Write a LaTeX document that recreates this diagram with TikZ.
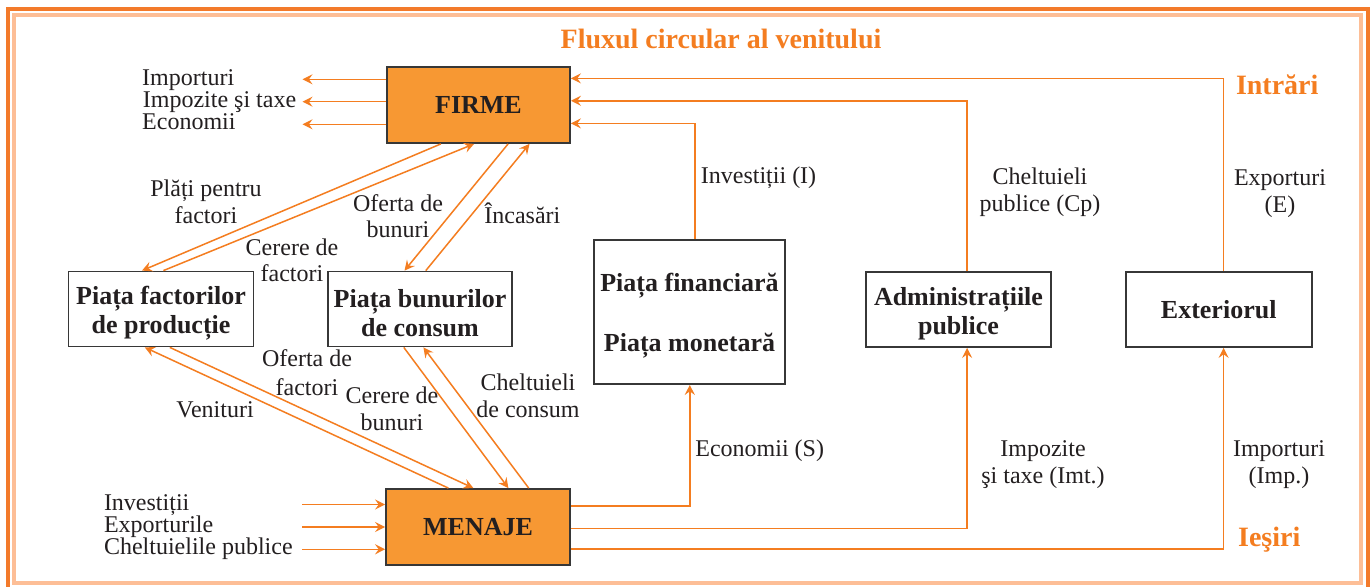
\documentclass[tikz,border=0pt]{standalone}
\usepackage{fontspec}
\setmainfont{Liberation Serif}
\usetikzlibrary{calc,arrows.meta}
\definecolor{lnor}{RGB}{244,125,32}
\definecolor{boxor}{RGB}{247,152,51}
\definecolor{frameor}{RGB}{243,122,42}
\definecolor{peach}{RGB}{253,190,150}
\definecolor{txt}{RGB}{35,31,32}
\definecolor{bord}{RGB}{55,55,55}
\newcommand{\topstrut}{\rule{0pt}{13pt}}
\begin{document}
\begin{tikzpicture}[x=0.5pt,y=-0.5pt,
  box/.style={draw=bord,line width=0.9pt,fill=white,text=txt,font=\fontsize{13}{14.5}\selectfont\bfseries,align=center,inner sep=0pt},
  obox/.style={box,fill=boxor},
  flow/.style={draw=lnor,line width=0.75pt,-{Stealth[length=5pt,width=5pt,inset=1.8pt]}},
  lbl/.style={text=txt,font=\fontsize{12}{14}\selectfont,inner sep=0pt},
  olbl/.style={text=lnor,font=\fontsize{14}{16}\selectfont\bfseries,inner sep=0pt}
]
\useasboundingbox (0,0) rectangle (1370,587);
\fill[white] (0,0) rectangle (1370,587);
% frame
\draw[frameor,line width=2pt] (8,600) -- (8,8.8) -- (1367.5,8.8) -- (1367.5,600);
\draw[peach,line width=2pt] (14,15.3) rectangle (1361.3,582.5);

% title and side labels
\node[olbl,anchor=base] (title) at (721,49) {Fluxul circular al venitului};
\node[olbl,anchor=base west] (intrari) at (1235.6,95) {Intrări};
\node[olbl,anchor=base west] (iesiri) at (1237.7,546.7) {Ieşiri};

% boxes
\node[obox,minimum width=91.5pt,minimum height=38pt] (firme) at (478.5,105) {FIRME};
\node[obox,minimum width=92pt,minimum height=38pt] (menaje) at (478,527) {MENAJE};
\node[box,minimum width=92.5pt,minimum height=37.5pt] (pfact) at (161,309) {\topstrut Piața factorilor\\de producție};
\node[box,minimum width=92.3pt,minimum height=37.5pt] (pbun) at (420,309) {\topstrut Piața bunurilor\\de consum};
\node[box,minimum width=95.5pt,minimum height=72pt] (pfin) at (689.5,312) {\topstrut Piața financiară\\[15.5pt]Piața monetară};
\node[box,minimum width=92.5pt,minimum height=37.5pt] (admin) at (958.5,309.5) {\topstrut Administrațiile\\publice};
\node[box,minimum width=93pt,minimum height=37.5pt] (ext) at (1218.7,309.5) {Exteriorul};

% left outputs of FIRME
\coordinate (fo1) at (302.5,79.3);
\coordinate (fo2) at (302.5,101.7);
\coordinate (fo3) at (302.5,124.3);
\draw[flow] (firme.west |- fo1) -- (fo1);
\draw[flow] (firme.west |- fo2) -- (fo2);
\draw[flow] (firme.west |- fo3) -- (fo3);
\node[lbl,anchor=base west] (limp) at (141.8,86) {Importuri};
\node[lbl,anchor=base west] (limz) at (142.5,107.7) {Impozite şi taxe};
\node[lbl,anchor=base west] (leco) at (141.8,130) {Economii};

% left inputs of MENAJE
\coordinate (mi1) at (302,504.5);
\coordinate (mi2) at (302,527);
\coordinate (mi3) at (302,549.3);
\draw[flow] (mi1) -- (menaje.west |- mi1);
\draw[flow] (mi2) -- (menaje.west |- mi2);
\draw[flow] (mi3) -- (menaje.west |- mi3);
\node[lbl,anchor=base west] (linv) at (103.6,510) {Investiții};
\node[lbl,anchor=base west] (lexp) at (103.6,532) {Exporturile};
\node[lbl,anchor=base west] (lchp) at (103.6,554) {Cheltuielile publice};

% right inputs of FIRME
\draw[flow] ($(ext.north west)+(98.8,0)$) |- ($(firme.north east)+(0,12.3)$);
\draw[flow] ($(admin.north west)+(102,0)$) |- ($(firme.north east)+(0,34.7)$);
\draw[flow] ($(pfin.north west)+(102,0)$) |- ($(firme.north east)+(0,57.3)$);

% right outputs of MENAJE
\draw[flow] ($(menaje.north east)+(0,17.7)$) -| ($(pfin.south west)+(96.7,0)$);
\draw[flow] ($(menaje.north east)+(0,40.3)$) -| ($(admin.south west)+(102,0)$);
\draw[flow] ($(menaje.north east)+(0,61)$) -| ($(ext.south west)+(98.8,0)$);

% diagonal flows
\draw[flow] ($(firme.south west)+(54.8,0)$) -- ($(pfact.north west)+(74.4,0)$);
\draw[flow] ($(pfact.north west)+(95.8,0)$) -- ($(firme.south west)+(88,0)$);
\draw[flow] ($(firme.south west)+(122,0)$) -- ($(pbun.north west)+(77.7,0)$);
\draw[flow] ($(pbun.north west)+(99,0)$) -- ($(firme.south west)+(143.4,0)$);
\draw[flow] ($(menaje.north west)+(63.3,0)$) -- ($(pfact.south west)+(77.2,0)$);
\draw[flow] ($(pfact.south west)+(102.2,0)$) -- ($(menaje.north west)+(88.3,0)$);
\draw[flow] ($(pbun.south west)+(77,0)$) -- ($(menaje.north west)+(123.3,0)$);
\draw[flow] ($(menaje.north west)+(143.6,0)$) -- ($(pbun.south west)+(96.6,0)$);

% diagonal labels
\node[lbl,anchor=base] (lpp1) at (206,197) {Plăți pentru};
\node[lbl,anchor=base] (lpp2) at (206,224) {factori};
\node[lbl,anchor=base] (lcf1) at (292,256) {Cerere de};
\node[lbl,anchor=base] (lcf2) at (292,282) {factori};
\node[lbl,anchor=base] (lob1) at (398,212) {Oferta de};
\node[lbl,anchor=base] (lob2) at (398,238) {bunuri};
\node[lbl,anchor=base west] (linc) at (484,224) {Încasări};
\node[lbl,anchor=base] (lof1) at (307,367) {Oferta de};
\node[lbl,anchor=base] (lof2) at (307,395) {factori};
\node[lbl,anchor=base] (lven) at (215,417) {Venituri};
\node[lbl,anchor=base] (lcb1) at (392,404) {Cerere de};
\node[lbl,anchor=base] (lcb2) at (392,430) {bunuri};
\node[lbl,anchor=base] (lcc1) at (528,391) {Cheltuieli};
\node[lbl,anchor=base] (lcc2) at (528,417) {de consum};

% right labels
\node[lbl,anchor=base west] (linvi) at (700.5,184) {Investiții (I)};
\node[lbl,anchor=base] (lcp1) at (1040,185) {Cheltuieli};
\node[lbl,anchor=base] (lcp2) at (1040,212) {publice (Cp)};
\node[lbl,anchor=base] (lex1) at (1280,186) {Exporturi};
\node[lbl,anchor=base] (lex2) at (1280,213) {(E)};
\node[lbl,anchor=base west] (lecs) at (695,456) {Economii (S)};
\node[lbl,anchor=base] (lit1) at (1043,456) {Impozite};
\node[lbl,anchor=base] (lit2) at (1043,483) {şi taxe (Imt.)};
\node[lbl,anchor=base] (lim1) at (1279,456) {Importuri};
\node[lbl,anchor=base] (lim2) at (1279,483) {(Imp.)};
\end{tikzpicture}
\end{document}
